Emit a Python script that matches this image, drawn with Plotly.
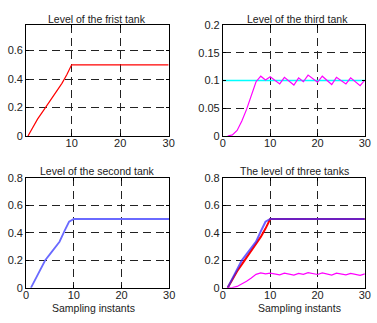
import plotly.graph_objects as go

W, H = 377, 323

# ---- data ----
samples = list(range(1, 31))
tank1 = [0, 0.065, 0.12, 0.17, 0.22, 0.27, 0.32, 0.37, 0.43, 0.5,
         0.5, 0.5, 0.5, 0.5, 0.5, 0.5, 0.5, 0.5, 0.5, 0.5,
         0.5, 0.5, 0.5, 0.5, 0.5, 0.5, 0.5, 0.5, 0.5, 0.5]
tank2 = [0, 0.07, 0.135, 0.2, 0.245, 0.29, 0.335, 0.41, 0.48, 0.5,
         0.5, 0.5, 0.5, 0.5, 0.5, 0.5, 0.5, 0.5, 0.5, 0.5,
         0.5, 0.5, 0.5, 0.5, 0.5, 0.5, 0.5, 0.5, 0.5, 0.5]
tank3 = [0, 0.002, 0.01, 0.027, 0.048, 0.072, 0.098, 0.108, 0.101, 0.107,
         0.100, 0.094, 0.106, 0.099, 0.092, 0.105, 0.098, 0.110, 0.104, 0.097,
         0.108, 0.101, 0.093, 0.106, 0.100, 0.094, 0.105, 0.098, 0.091, 0.101]
setpoint_x = [0, 30]
setpoint3 = [0.1, 0.1]

titles = ["Level of the frist tank", "Level of the third tank",
          "Level of the second tank", "The level of three tanks"]
xlabel = "Sampling instants"
x_ticks = [0, 10, 20, 30]
y_ticks_a = [0, 0.2, 0.4, 0.6]
y_ticks_b = [0, 0.05, 0.1, 0.15, 0.2]
y_ticks_c = [0, 0.2, 0.4, 0.6, 0.8]
y_text_b = ["0", "0.05", "0.1", "0.15", "0.2"]

FONT = "Liberation Sans, Arial, sans-serif"

fig = go.Figure()

# panel boxes in pixels (left, right, top, bottom)
boxes = {
    1: (23.7, 169.7, 20, 135),
    2: (225.3, 370.7, 20, 135),
    3: (23.7, 170.3, 178.3, 292.7),
    4: (225.3, 370.7, 178.3, 292.7),
}

def dom(i):
    l, r, t, b = boxes[i]
    return [l / W, r / W], [1 - b / H, 1 - t / H]

ranges = {
    1: ([0.62, 30], [0, 0.778], y_ticks_a, None),
    2: ([0, 30], [0, 0.2], y_ticks_b, y_text_b),
    3: ([0, 30], [0, 0.8], y_ticks_c, None),
    4: ([0, 30], [0, 0.8], y_ticks_c, None),
}

for i in range(1, 5):
    xd, yd = dom(i)
    xr, yr, yt, ytt = ranges[i]
    sfx = "" if i == 1 else str(i)
    common = dict(showline=True, linecolor="black", linewidth=1, mirror="ticks",
                  ticks="inside", ticklen=3, tickcolor="black",
                  showgrid=True, gridcolor="#222", gridwidth=1, griddash="8px,5px",
                  zeroline=False, tickfont=dict(family=FONT, size=11, color="#222"))
    fig.layout["xaxis" + sfx] = dict(domain=xd, range=xr, tickvals=x_ticks,
                                     anchor="y" + sfx, ticklabelstandoff=-3, **common)
    yax = dict(domain=yd, range=yr, tickvals=yt, anchor="x" + sfx, **common)
    if ytt:
        yax["ticktext"] = ytt
    fig.layout["yaxis" + sfx] = yax

def line(x, y, color, width, ax, opacity=1.0):
    sfx = "" if ax == 1 else str(ax)
    fig.add_trace(go.Scatter(x=x, y=y, mode="lines", opacity=opacity,
                             line=dict(color=color, width=width),
                             xaxis="x" + sfx, yaxis="y" + sfx, showlegend=False,
                             hoverinfo="skip"))

# panel 1
line(samples, tank1, "#ff0000", 1.2, 1)
# panel 2
line(setpoint_x, setpoint3, "#00ffff", 1.5, 2)
line(samples, tank3, "#ff00ff", 1.2, 2)
# panel 3
line(samples, tank2, "#6a6aff", 1.8, 3)
# panel 4
line(samples, tank1, "#ff0000", 2, 4)
line(samples, tank2, "rgb(60,40,255)", 2, 4, opacity=0.75)
line(samples, tank3, "#ff00ff", 1.2, 4)

# titles
title_pos = [(96.7, 13.5), (302, 13.5), (97, 171.5), (298.7, 171.5)]
for t, (px, py) in zip(titles, title_pos):
    fig.add_annotation(text=t, x=px / W, y=1 - py / H, xref="paper", yref="paper",
                       showarrow=False, xanchor="center", yanchor="middle",
                       font=dict(family=FONT, size=10.5, color="#222"))
for px in (92.8, 303.3):
    fig.add_annotation(text=xlabel, x=px / W, y=1 - 314 / H, xref="paper", yref="paper",
                       showarrow=False, xanchor="center", yanchor="middle",
                       font=dict(family=FONT, size=10.5, color="#222"))

fig.update_layout(width=W, height=H, margin=dict(l=0, r=0, t=0, b=0),
                  paper_bgcolor="white", plot_bgcolor="white")

fig.write_html("out.html", config={"displayModeBar": False},
               post_script="document.body.style.margin='0';document.body.style.padding='0';")
